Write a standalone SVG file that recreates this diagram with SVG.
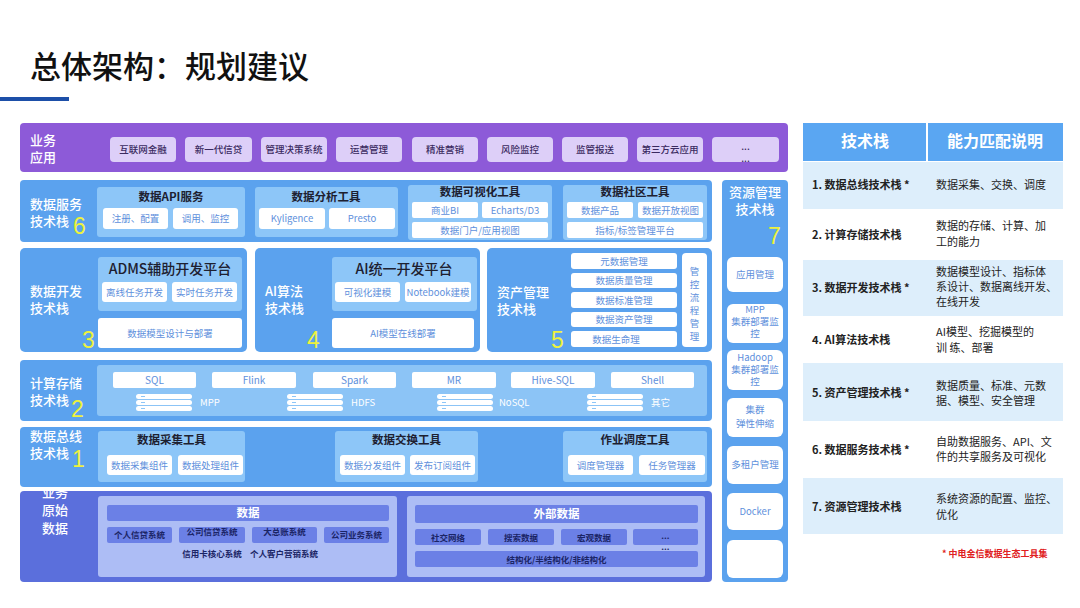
<svg xmlns="http://www.w3.org/2000/svg" width="1080" height="608" viewBox="0 0 1080 608">
<defs>
<style>
text{font-family:"Noto Sans CJK SC","Noto Sans CJK TC","Noto Sans",sans-serif;}
.title{font-size:31px;font-weight:500;fill:#111;}
.purple{fill:#8d5ad8;}
.app{fill:#ddcff8;}
.appt{font-size:9.5px;fill:#3a2a60;text-anchor:middle;font-weight:500;}
.blue{fill:#5ba2ee;}
.sub{fill:#8dc6f8;}
.wb{fill:#fff;}
.lbl{font-size:13px;fill:#fff;font-weight:500;}
text.num{font-family:"Liberation Sans",Arial,sans-serif;font-size:23px;fill:#eef23c;}
.pt{font-size:11.5px;fill:#1d2030;font-weight:bold;text-anchor:middle;}
.pt2{font-size:14px;fill:#1d2030;font-weight:500;text-anchor:middle;}
.bt{font-size:9.5px;fill:#5e90dc;text-anchor:middle;}
.ct{font-size:10px;fill:#5e90dc;text-anchor:middle;}
.dt{font-size:9.5px;fill:#fff;}
.indigo{fill:#5b6fdc;}
.ipanel{fill:#adbdf5;}
.ibox{fill:#6b80e6;}
.it{font-size:8.5px;fill:#1b2566;text-anchor:middle;font-weight:bold;}
.ih{font-size:11.5px;fill:#fff;text-anchor:middle;font-weight:bold;}
.th{font-size:16px;fill:#fff;font-weight:bold;text-anchor:middle;}
.tl{font-size:11px;fill:#222;font-weight:bold;}
.tr{font-size:11px;fill:#222;}
.lightrow{fill:#ddeefb;}
</style>
<symbol id="disk" viewBox="0 0 56 17">
<rect x="0" y="0" width="56" height="5" rx="2.5" fill="#fff"/>
<rect x="0" y="6" width="56" height="5" rx="2.5" fill="#fff"/>
<rect x="0" y="12" width="56" height="5" rx="2.5" fill="#fff"/>
<rect x="5" y="2" width="4" height="1" fill="#8dc6f8"/>
<rect x="5" y="8" width="4" height="1" fill="#8dc6f8"/>
<rect x="5" y="14" width="4" height="1" fill="#8dc6f8"/>
</symbol>
</defs>
<rect width="1080" height="608" fill="#fff"/>

<g id="title">
<text class="title" x="30" y="78">总体架构：规划建议</text>
<rect x="0" y="97" width="69" height="4" fill="#1d4fa8"/>
</g>

<g id="business-apps">
<rect class="purple" x="20" y="123" width="768" height="49" rx="4"/>
<text class="lbl" x="30" y="145">业务<tspan x="30" y="162">应用</tspan></text>
<rect class="app" x="110" y="137" width="66" height="25" rx="4"/><text class="appt" x="143" y="153">互联网金融</text>
<rect class="app" x="185" y="137" width="67" height="25" rx="4"/><text class="appt" x="218.5" y="153">新一代信贷</text>
<rect class="app" x="261" y="137" width="66" height="25" rx="4"/><text class="appt" x="294" y="153">管理决策系统</text>
<rect class="app" x="336" y="137" width="66" height="25" rx="4"/><text class="appt" x="369" y="153">运营管理</text>
<rect class="app" x="412" y="137" width="66" height="25" rx="4"/><text class="appt" x="445" y="153">精准营销</text>
<rect class="app" x="487" y="137" width="66" height="25" rx="4"/><text class="appt" x="520" y="153">风险监控</text>
<rect class="app" x="562" y="137" width="66" height="25" rx="4"/><text class="appt" x="595" y="153">监管报送</text>
<rect class="app" x="637" y="137" width="66" height="25" rx="4"/><text class="appt" x="670" y="153">第三方云应用</text>
<rect class="app" x="712" y="137" width="67" height="25" rx="4"/><text class="appt" x="745.5" y="150" font-size="8px">...<tspan x="745.5" y="162">...</tspan></text>
</g>

<g id="data-service">
<rect class="blue" x="20" y="180" width="692" height="62" rx="4"/>
<text class="lbl" x="30" y="209">数据服务<tspan x="30" y="226">技术栈</tspan></text>
<text class="num" x="73" y="234">6</text>
<rect class="sub" x="97" y="187" width="148" height="50" rx="3"/>
<text class="pt" x="171" y="201">数据API服务</text>
<rect class="wb" x="103" y="208" width="65" height="21" rx="3"/><text class="bt" x="135.5" y="222">注册、配置</text>
<rect class="wb" x="173" y="208" width="65" height="21" rx="3"/><text class="bt" x="205.5" y="222">调用、监控</text>
<rect class="sub" x="255" y="187" width="143" height="50" rx="3"/>
<text class="pt" x="326" y="201">数据分析工具</text>
<rect class="wb" x="259" y="208" width="66" height="21" rx="3"/><text class="bt" x="292" y="222">Kyligence</text>
<rect class="wb" x="329" y="208" width="66" height="21" rx="3"/><text class="bt" x="362" y="222">Presto</text>
<rect class="sub" x="408" y="185" width="144" height="55" rx="3"/>
<text class="pt" x="480" y="196">数据可视化工具</text>
<rect class="wb" x="412" y="202" width="66" height="16" rx="2"/><text class="bt" x="445" y="213.5">商业BI</text>
<rect class="wb" x="482" y="202" width="66" height="16" rx="2"/><text class="bt" x="515" y="213.5">Echarts/D3</text>
<rect class="wb" x="412" y="222" width="136" height="16" rx="2"/><text class="bt" x="480" y="233.5">数据门户/应用视图</text>
<rect class="sub" x="563" y="185" width="144" height="55" rx="3"/>
<text class="pt" x="635" y="196">数据社区工具</text>
<rect class="wb" x="567" y="202" width="66" height="16" rx="2"/><text class="bt" x="600" y="213.5">数据产品</text>
<rect class="wb" x="638" y="202" width="65" height="16" rx="2"/><text class="bt" x="670.5" y="213.5">数据开放视图</text>
<rect class="wb" x="567" y="222" width="136" height="16" rx="2"/><text class="bt" x="635" y="233.5">指标/标签管理平台</text>
</g>

<g id="resource-mgmt">
<rect class="blue" x="722" y="180" width="66" height="402" rx="4"/>
<text class="lbl" x="755" y="197" text-anchor="middle">资源管理<tspan x="755" y="214">技术栈</tspan></text>
<text class="num" x="768" y="244">7</text>
<rect class="wb" x="727" y="257" width="56" height="35" rx="6"/><text class="bt" x="755" y="278">应用管理</text>
<rect class="wb" x="727" y="304" width="56" height="39" rx="6"/>
<text class="bt" x="755" y="313">MPP<tspan x="755" y="325">集群部署监</tspan><tspan x="755" y="337">控</tspan></text>
<rect class="wb" x="727" y="350" width="56" height="40" rx="6"/>
<text class="bt" x="755" y="361">Hadoop<tspan x="755" y="373">集群部署监</tspan><tspan x="755" y="385">控</tspan></text>
<rect class="wb" x="727" y="398" width="56" height="39" rx="6"/>
<text class="bt" x="755" y="413">集群<tspan x="755" y="427">弹性伸缩</tspan></text>
<rect class="wb" x="727" y="446" width="56" height="38" rx="6"/><text class="bt" x="755" y="468">多租户管理</text>
<rect class="wb" x="727" y="493" width="56" height="37" rx="6"/><text class="bt" x="755" y="515">Docker</text>
<rect class="wb" x="727" y="540" width="56" height="38" rx="6"/>
</g>

<g id="data-dev">
<rect class="blue" x="20" y="248" width="227" height="104" rx="5"/>
<text class="lbl" x="30" y="296">数据开发<tspan x="30" y="313">技术栈</tspan></text>
<text class="num" x="82" y="348">3</text>
<rect class="sub" x="98" y="257" width="144" height="54" rx="3"/>
<text class="pt2" x="170" y="274">ADMS辅助开发平台</text>
<rect class="wb" x="102" y="282" width="65" height="20" rx="3"/><text class="bt" x="134.5" y="295.5">离线任务开发</text>
<rect class="wb" x="172" y="282" width="65" height="20" rx="3"/><text class="bt" x="204.5" y="295.5">实时任务开发</text>
<rect class="wb" x="98" y="318" width="144" height="30" rx="3"/><text class="bt" x="170" y="336.5">数据模型设计与部署</text>
</g>

<g id="ai-algo">
<rect class="blue" x="255" y="248" width="225" height="104" rx="5"/>
<text class="lbl" x="265" y="296">AI算法<tspan x="265" y="313">技术栈</tspan></text>
<text class="num" x="307" y="348">4</text>
<rect class="sub" x="332" y="257" width="145" height="54" rx="3"/>
<text class="pt2" x="404" y="274">AI统一开发平台</text>
<rect class="wb" x="335" y="282" width="65" height="20" rx="3"/><text class="bt" x="367.5" y="295.5">可视化建模</text>
<rect class="wb" x="405" y="282" width="66" height="20" rx="3"/><text class="bt" x="438" y="295.5">Notebook建模</text>
<rect class="wb" x="332" y="318" width="142" height="30" rx="3"/><text class="bt" x="403" y="336.5">AI模型在线部署</text>
</g>

<g id="asset-mgmt">
<rect class="blue" x="487" y="248" width="225" height="104" rx="5"/>
<text class="lbl" x="497" y="297">资产管理<tspan x="497" y="314">技术栈</tspan></text>
<text class="num" x="551" y="348">5</text>
<rect class="wb" x="571" y="253" width="106" height="16" rx="3"/><text class="bt" x="624" y="264.5">元数据管理</text>
<rect class="wb" x="571" y="273" width="106" height="15" rx="3"/><text class="bt" x="624" y="284">数据质量管理</text>
<rect class="wb" x="571" y="292" width="106" height="16" rx="3"/><text class="bt" x="624" y="303.5">数据标准管理</text>
<rect class="wb" x="571" y="312" width="106" height="15" rx="3"/><text class="bt" x="624" y="323">数据资产管理</text>
<rect class="wb" x="571" y="331" width="106" height="16" rx="3"/><text class="bt" x="616" y="342.5">数据生命理</text>
<rect class="wb" x="682" y="253" width="25" height="94" rx="4"/>
<text class="bt" x="694.5" y="275">管<tspan x="694.5" y="288">控</tspan><tspan x="694.5" y="301">流</tspan><tspan x="694.5" y="314">程</tspan><tspan x="694.5" y="327">管</tspan><tspan x="694.5" y="340">理</tspan></text>
</g>

<g id="compute-storage">
<rect class="blue" x="20" y="360" width="692" height="61" rx="4"/>
<text class="lbl" x="30" y="388">计算存储<tspan x="30" y="405">技术栈</tspan></text>
<text class="num" x="71" y="417">2</text>
<rect fill="#8cc4f6" x="97" y="365" width="610" height="51" rx="3"/>
<rect class="wb" x="113" y="372" width="83" height="16" rx="2"/><text class="ct" x="154.5" y="384">SQL</text>
<rect class="wb" x="212" y="372" width="84" height="16" rx="2"/><text class="ct" x="254" y="384">Flink</text>
<rect class="wb" x="313" y="372" width="83" height="16" rx="2"/><text class="ct" x="354.5" y="384">Spark</text>
<rect class="wb" x="412" y="372" width="84" height="16" rx="2"/><text class="ct" x="454" y="384">MR</text>
<rect class="wb" x="511" y="372" width="84" height="16" rx="2"/><text class="ct" x="553" y="384">Hive-SQL</text>
<rect class="wb" x="611" y="372" width="83" height="16" rx="2"/><text class="ct" x="652.5" y="384">Shell</text>
<use href="#disk" x="136" y="394" width="56" height="17"/><text class="dt" x="200" y="406">MPP</text>
<use href="#disk" x="287" y="394" width="56" height="17"/><text class="dt" x="351" y="406">HDFS</text>
<use href="#disk" x="437" y="394" width="56" height="17"/><text class="dt" x="499" y="406">NoSQL</text>
<use href="#disk" x="587" y="394" width="56" height="17"/><text class="dt" x="651" y="406">其它</text>
</g>

<g id="raw-data">
<rect class="indigo" x="20" y="491" width="692" height="91" rx="4"/>
<text class="lbl" x="42" y="497">业务<tspan x="42" y="515">原始</tspan><tspan x="42" y="533">数据</tspan></text>
<rect class="ipanel" x="98" y="496" width="299" height="81" rx="3"/>
<rect class="ibox" x="107" y="505" width="282" height="16" rx="2"/><text class="ih" x="248" y="517">数据</text>
<rect class="ibox" x="107" y="527" width="65" height="16" rx="2"/><text class="it" x="139.5" y="538">个人信贷系统</text>
<rect class="ibox" x="179" y="527" width="66" height="16" rx="2"/><text class="it" x="212" y="535">公司信贷系统</text>
<rect class="ibox" x="252" y="527" width="65" height="16" rx="2"/><text class="it" x="284.5" y="535">大总账系统</text>
<rect class="ibox" x="324" y="527" width="65" height="16" rx="2"/><text class="it" x="356.5" y="538">公司业务系统</text>
<text class="it" x="212" y="557">信用卡核心系统</text>
<text class="it" x="284" y="557">个人客户营销系统</text>
<rect class="ipanel" x="407" y="496" width="298" height="81" rx="3"/>
<rect class="ibox" x="415" y="505" width="283" height="18" rx="2"/><text class="ih" x="556.5" y="518">外部数据</text>
<rect class="ibox" x="415" y="529" width="66" height="16" rx="2"/><text class="it" x="448" y="540.5">社交网络</text>
<rect class="ibox" x="488" y="529" width="66" height="16" rx="2"/><text class="it" x="521" y="540.5">搜索数据</text>
<rect class="ibox" x="561" y="529" width="66" height="16" rx="2"/><text class="it" x="594" y="540.5">宏观数据</text>
<rect class="ibox" x="633" y="529" width="65" height="16" rx="2"/><text class="it" x="665.5" y="539">...</text>
<text class="it" x="665.5" y="549.5" font-size="6px">...</text>
<rect class="ibox" x="415" y="551" width="283" height="16" rx="2"/><text class="it" x="556.5" y="562.5">结构化/半结构化/非结构化</text>
</g>

<g id="data-bus">
<rect class="blue" x="20" y="427" width="692" height="60" rx="4"/>
<text class="lbl" x="30" y="441">数据总线<tspan x="30" y="458">技术栈</tspan></text>
<text class="num" x="72" y="467">1</text>
<rect class="sub" x="98" y="431" width="147" height="51" rx="3"/>
<text class="pt" x="171.5" y="444">数据采集工具</text>
<rect class="wb" x="107" y="455" width="65" height="20" rx="3"/><text class="bt" x="139.5" y="468.5">数据采集组件</text>
<rect class="wb" x="178" y="455" width="65" height="20" rx="3"/><text class="bt" x="210.5" y="468.5">数据处理组件</text>
<rect class="sub" x="335" y="431" width="143" height="51" rx="3"/>
<text class="pt" x="406.5" y="444">数据交换工具</text>
<rect class="wb" x="340" y="455" width="65" height="20" rx="3"/><text class="bt" x="372.5" y="468.5">数据分发组件</text>
<rect class="wb" x="410" y="455" width="65" height="20" rx="3"/><text class="bt" x="442.5" y="468.5">发布订阅组件</text>
<rect class="sub" x="563" y="431" width="144" height="51" rx="3"/>
<text class="pt" x="635" y="444">作业调度工具</text>
<rect class="wb" x="568" y="455" width="65" height="20" rx="3"/><text class="bt" x="600.5" y="468.5">调度管理器</text>
<rect class="wb" x="639" y="455" width="66" height="20" rx="3"/><text class="bt" x="672" y="468.5">任务管理器</text>
</g>

<g id="capability-table">
<rect x="803" y="123" width="260" height="38" fill="#5aa6f2"/>
<rect x="926" y="123" width="2" height="38" fill="#fff"/>
<text class="th" x="865" y="147">技术栈</text>
<text class="th" x="995" y="147">能力匹配说明</text>
<rect class="lightrow" x="803" y="162" width="260" height="47"/>
<rect class="lightrow" x="803" y="260" width="260" height="56"/>
<rect class="lightrow" x="803" y="363" width="260" height="58"/>
<rect class="lightrow" x="803" y="478" width="260" height="56"/>
<text class="tl" x="812" y="189">1. 数据总线技术栈 *</text>
<text class="tr" x="936" y="189">数据采集、交换、调度</text>
<text class="tl" x="812" y="239">2. 计算存储技术栈</text>
<text class="tr" x="936" y="230">数据的存储、计算、加<tspan x="936" y="246">工的能力</tspan></text>
<text class="tl" x="812" y="292">3. 数据开发技术栈 *</text>
<text class="tr" x="936" y="276">数据模型设计、指标体<tspan x="936" y="291">系设计、数据离线开发、</tspan><tspan x="936" y="306">在线开发</tspan></text>
<text class="tl" x="812" y="344">4. AI算法技术栈</text>
<text class="tr" x="936" y="336">AI模型、挖掘模型的<tspan x="936" y="352">训 练、部署</tspan></text>
<text class="tl" x="812" y="397">5. 资产管理技术栈 *</text>
<text class="tr" x="936" y="390">数据质量、标准、元数<tspan x="936" y="405">据、模型、安全管理</tspan></text>
<text class="tl" x="812" y="454">6. 数据服务技术栈 *</text>
<text class="tr" x="936" y="446">自助数据服务、API、文<tspan x="936" y="461">件的共享服务及可视化</tspan></text>
<text class="tl" x="812" y="511">7. 资源管理技术栈</text>
<text class="tr" x="936" y="503">系统资源的配置、监控、<tspan x="936" y="519">优化</tspan></text>
<text x="942" y="557" font-size="9px" fill="#e02020" font-weight="bold">* 中电金信数据生态工具集</text>
</g>
</svg>
